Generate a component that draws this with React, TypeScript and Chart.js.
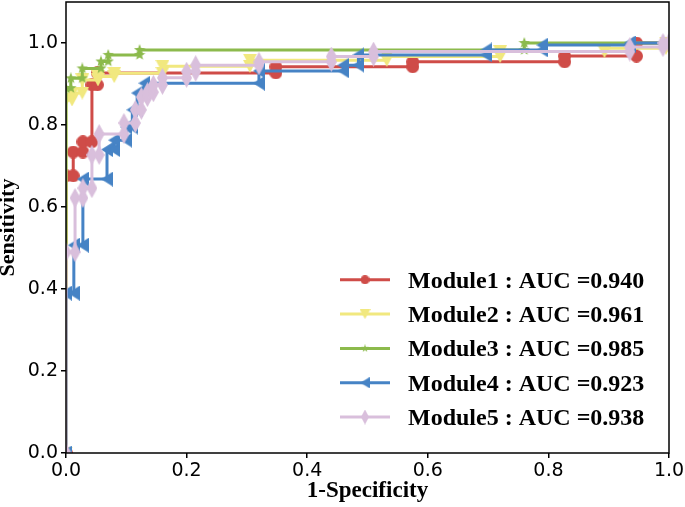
import React, { useEffect, useRef } from "react";
import { Chart, registerables } from "chart.js";

Chart.register(...registerables);

// ---- data ----
const module1Fpr = [0, 0, 0.012, 0.012, 0.028, 0.028, 0.043, 0.043, 0.052, 0.052, 0.348, 0.348, 0.575, 0.575, 0.827, 0.827, 0.946, 0.946, 1];
const module1Tpr = [0, 0.676, 0.676, 0.734, 0.734, 0.759, 0.759, 0.898, 0.898, 0.927, 0.927, 0.942, 0.942, 0.954, 0.954, 0.968, 0.968, 1.0, 1.0];

const module2Fpr = [0, 0, 0.01, 0.01, 0.027, 0.027, 0.053, 0.053, 0.08, 0.08, 0.16, 0.16, 0.305, 0.305, 0.532, 0.532, 0.72, 0.72, 0.893, 0.893, 0.995, 0.995, 1];
const module2Tpr = [0, 0.861, 0.861, 0.878, 0.878, 0.91, 0.91, 0.918, 0.918, 0.926, 0.926, 0.943, 0.943, 0.958, 0.958, 0.967, 0.967, 0.979, 0.979, 0.987, 0.987, 1.0, 1.0];

const module3Fpr = [0, 0, 0.008, 0.008, 0.027, 0.027, 0.058, 0.058, 0.07, 0.07, 0.122, 0.122, 0.76, 0.76, 1];
const module3Tpr = [0, 0.89, 0.89, 0.914, 0.914, 0.938, 0.938, 0.955, 0.955, 0.971, 0.971, 0.983, 0.983, 1.0, 1.0];

const module4Fpr = [0, 0, 0.013, 0.013, 0.028, 0.028, 0.068, 0.068, 0.08, 0.08, 0.1, 0.1, 0.11, 0.11, 0.118, 0.118, 0.13, 0.13, 0.32, 0.32, 0.46, 0.46, 0.485, 0.485, 0.697, 0.697, 0.79, 0.79, 0.935, 0.935, 1];
const module4Tpr = [0, 0.39, 0.39, 0.507, 0.507, 0.668, 0.668, 0.74, 0.74, 0.763, 0.763, 0.795, 0.795, 0.837, 0.837, 0.878, 0.878, 0.902, 0.902, 0.932, 0.932, 0.946, 0.946, 0.971, 0.971, 0.983, 0.983, 0.995, 0.995, 1.0, 1.0];

const module5Fpr = [0, 0, 0.015, 0.015, 0.028, 0.028, 0.043, 0.043, 0.055, 0.055, 0.096, 0.096, 0.115, 0.115, 0.125, 0.125, 0.135, 0.135, 0.145, 0.145, 0.16, 0.16, 0.2, 0.2, 0.215, 0.215, 0.32, 0.32, 0.44, 0.44, 0.51, 0.51, 0.935, 0.935, 0.99, 0.99, 1];
const module5Tpr = [0, 0.49, 0.49, 0.622, 0.622, 0.646, 0.646, 0.727, 0.727, 0.778, 0.778, 0.805, 0.805, 0.837, 0.837, 0.868, 0.868, 0.88, 0.88, 0.898, 0.898, 0.915, 0.915, 0.93, 0.93, 0.946, 0.946, 0.954, 0.954, 0.967, 0.967, 0.979, 0.979, 0.99, 0.99, 1.0, 1.0];

const seriesLabels = [
  "Module1 : AUC =0.940",
  "Module2 : AUC =0.961",
  "Module3 : AUC =0.985",
  "Module4 : AUC =0.923",
  "Module5 : AUC =0.938",
];
const seriesColors = ["#cf4c48", "#f1e87f", "#8cba4c", "#4683c5", "#d9bfdc"];
const seriesMarkers = ["circle", "down", "star", "left", "diamond"];

const xTicks = [0, 0.2, 0.4, 0.6, 0.8, 1.0];
const yTicks = [0, 0.2, 0.4, 0.6, 0.8, 1.0];
const xLimits = [0, 1];
const yLimits = [0, 1.1];
const xTitle = "1-Specificity";
const yTitle = "Sensitivity";

// ---- marker images ----
function makeMarker(shape: string, color: string, w: number, h: number): HTMLCanvasElement {
  const c = document.createElement("canvas");
  c.width = w;
  c.height = h;
  const ctx = c.getContext("2d")!;
  ctx.fillStyle = color;
  ctx.beginPath();
  if (shape === "circle") {
    ctx.arc(w / 2, h / 2, Math.min(w, h) / 2, 0, Math.PI * 2);
  } else if (shape === "down") {
    ctx.moveTo(0, 0);
    ctx.lineTo(w, 0);
    ctx.lineTo(w / 2, h);
  } else if (shape === "left") {
    ctx.moveTo(0, h / 2);
    ctx.lineTo(w, 0);
    ctx.lineTo(w, h);
  } else if (shape === "diamond") {
    ctx.moveTo(w / 2, 0);
    ctx.lineTo(w, h / 2);
    ctx.lineTo(w / 2, h);
    ctx.lineTo(0, h / 2);
  } else if (shape === "star") {
    const R = Math.min(w, h) / 2;
    const r = R * 0.42;
    for (let k = 0; k < 10; k++) {
      const rad = k % 2 === 0 ? R : r;
      const a = -Math.PI / 2 + (k * Math.PI) / 5;
      const px = w / 2 + rad * Math.cos(a);
      const py = h / 2 + rad * Math.sin(a);
      if (k === 0) ctx.moveTo(px, py);
      else ctx.lineTo(px, py);
    }
  }
  ctx.closePath();
  ctx.fill();
  return c;
}

const plotSizes: Record<string, [number, number]> = {
  circle: [13, 13],
  down: [14, 13],
  star: [12, 12],
  left: [12, 15],
  diamond: [11, 20],
};
const legendSizes: Record<string, [number, number]> = {
  circle: [9, 9],
  down: [11, 10],
  star: [8, 8],
  left: [9, 11],
  diamond: [8, 15],
};

export default function App() {
  const canvasRef = useRef<HTMLCanvasElement | null>(null);

  useEffect(() => {
    if (!canvasRef.current) return;
    const fprs = [module1Fpr, module2Fpr, module3Fpr, module4Fpr, module5Fpr];
    const tprs = [module1Tpr, module2Tpr, module3Tpr, module4Tpr, module5Tpr];

    const plotMarkers = seriesMarkers.map((m, i) =>
      makeMarker(m, seriesColors[i], plotSizes[m][0], plotSizes[m][1])
    );
    const legendMarkers = seriesMarkers.map((m, i) =>
      makeMarker(m, seriesColors[i], legendSizes[m][0], legendSizes[m][1])
    );

    const datasets = seriesLabels.map((label, i) => ({
      label,
      data: fprs[i].map((x, j) => ({ x, y: tprs[i][j] })),
      showLine: true,
      borderColor: seriesColors[i],
      backgroundColor: seriesColors[i],
      borderWidth: 3,
      pointStyle: plotMarkers[i],
      pointRadius: 6,
      pointHoverRadius: 6,
      tension: 0,
      clip: 0,
      order: seriesLabels.length - i,
    }));

    const framePlugin = {
      id: "frame",
      afterDatasetsDraw(chart: any) {
        const { ctx, chartArea } = chart;
        ctx.save();
        ctx.strokeStyle = "#000";
        ctx.lineWidth = 1.5;
        ctx.strokeRect(
          chartArea.left,
          chartArea.top,
          chartArea.right - chartArea.left,
          chartArea.bottom - chartArea.top
        );
        ctx.restore();
      },
    };

    const legendPlugin = {
      id: "roclegend",
      afterDraw(chart: any) {
        const { ctx, chartArea } = chart;
        const n = chart.data.datasets.length;
        const rowGap = 34.3;
        const lastY = chartArea.bottom - 36;
        const x0 = chartArea.right - 329;
        const x1 = chartArea.right - 279;
        const tx = chartArea.right - 261;
        chart.data.datasets.forEach((ds: any, i: number) => {
          const y = lastY - (n - 1 - i) * rowGap;
          ctx.save();
          ctx.strokeStyle = ds.borderColor;
          ctx.lineWidth = 3;
          ctx.beginPath();
          ctx.moveTo(x0, y);
          ctx.lineTo(x1, y);
          ctx.stroke();
          const m = legendMarkers[i];
          ctx.drawImage(m, (x0 + x1) / 2 - m.width / 2, y - m.height / 2);
          ctx.fillStyle = "#000";
          ctx.font = 'bold 24px "Liberation Serif"';
          ctx.textBaseline = "alphabetic";
          ctx.textAlign = "left";
          ctx.fillText(ds.label, tx, y + 8);
          ctx.restore();
        });
      },
    };

    const tickFont = { family: "DejaVu Sans", size: 19 };
    const titleFont = { family: "Liberation Serif", size: 23, weight: "bold" as const };

    const chart = new Chart(canvasRef.current, {
      type: "scatter",
      data: { datasets },
      options: {
        animation: false,
        responsive: false,
        devicePixelRatio: 1,
        layout: { autoPadding: false, padding: { left: 0, right: 16, top: 2, bottom: 0 } },
        plugins: {
          legend: { display: false },
          tooltip: { enabled: false },
        },
        scales: {
          x: {
            type: "linear",
            min: xLimits[0],
            max: xLimits[1],
            afterBuildTicks: (s: any) => {
              s.ticks = xTicks.map((v) => ({ value: v }));
            },
            afterFit: (s: any) => {
              s.height = 54;
              s.paddingLeft = 0;
              s.paddingRight = 0;
            },
            ticks: {
              callback: (v: any) => Number(v).toFixed(1),
              font: tickFont,
              color: "#000",
              padding: 2,
              maxRotation: 0,
              autoSkip: false,
            },
            grid: {
              drawOnChartArea: false,
              drawTicks: true,
              tickLength: 5,
              color: "#000",
              lineWidth: 1.5,
            },
            border: { display: false },
            title: {
              display: true,
              text: xTitle,
              font: titleFont,
              color: "#000",
              padding: { top: 0, bottom: 2 },
            },
          },
          y: {
            type: "linear",
            min: yLimits[0],
            max: yLimits[1],
            afterBuildTicks: (s: any) => {
              s.ticks = yTicks.map((v) => ({ value: v }));
            },
            afterFit: (s: any) => {
              s.width = 66;
              s.paddingTop = 0;
              s.paddingBottom = 0;
            },
            ticks: {
              callback: (v: any) => Number(v).toFixed(1),
              font: tickFont,
              color: "#000",
              padding: 3,
              autoSkip: false,
            },
            grid: {
              drawOnChartArea: false,
              drawTicks: true,
              tickLength: 5,
              color: "#000",
              lineWidth: 1.5,
            },
            border: { display: false },
            title: {
              display: true,
              text: yTitle,
              font: { ...titleFont, size: 22, lineHeight: 0.8 },
              color: "#000",
              padding: { top: 0, bottom: 0 },
            },
          },
        },
      },
      plugins: [framePlugin, legendPlugin],
    } as any);

    return () => chart.destroy();
  }, []);

  return (
    <div style={{ position: "absolute", left: 0, top: 0, width: 685, height: 507, background: "#fff" }}>
      <canvas ref={canvasRef} width={685} height={507} style={{ display: "block" }} />
    </div>
  );
}
